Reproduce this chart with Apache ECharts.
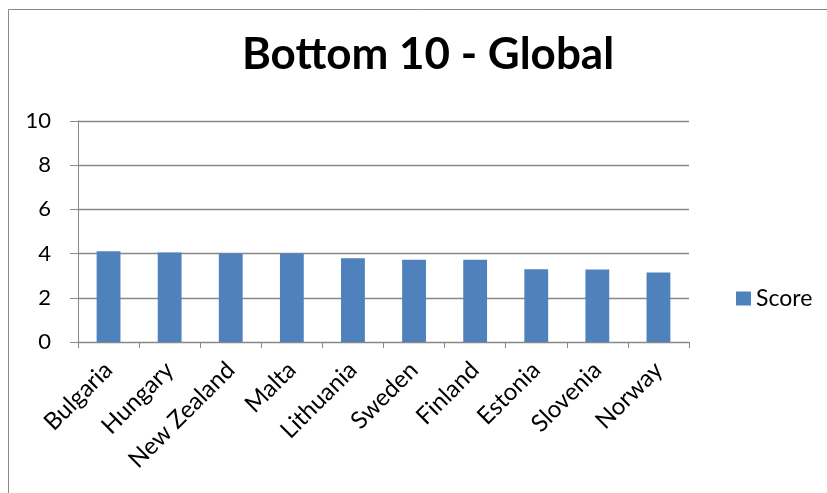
<!DOCTYPE html>
<html>
<head>
<meta charset="utf-8">
<script src="https://cdn.jsdelivr.net/npm/echarts@6/dist/echarts.min.js"></script>
<style>html,body{margin:0;padding:0;background:#fff}#c{width:827px;height:493px}</style>
</head>
<body>
<div id="c"></div>
<script>
var categories = ['Bulgaria','Hungary','New Zealand','Malta','Lithuania','Sweden','Finland','Estonia','Slovenia','Norway'];
var scores = [4.11, 4.05, 4.0, 4.0, 3.79, 3.72, 3.72, 3.29, 3.28, 3.15];
var yTicks = [0, 2, 4, 6, 8, 10];

var chart = echarts.init(document.getElementById('c'));
var font = 'Lato, "Open Sans", sans-serif';
chart.setOption({
  animation: false,
  graphic: [{
    type: 'rect', shape: {x: 8.5, y: 9.5, width: 900, height: 600},
    style: {fill: 'none', stroke: '#888', lineWidth: 1}, silent: true
  }],
  title: {
    text: 'Bottom 10 - Global', left: 423, top: 28, textAlign: 'center',
    textStyle: {fontFamily: font, fontWeight: 'bold', fontSize: 44, color: '#000'}
  },
  legend: {
    data: ['Score'], left: 731, top: 282, itemWidth: 15, itemHeight: 14, itemGap: 6,
    icon: 'rect',
    textStyle: {fontFamily: font, fontSize: 23, color: '#000'}
  },
  grid: {left: 78, right: 138, top: 121, bottom: 151},
  xAxis: {
    type: 'category', data: categories,
    axisLine: {lineStyle: {color: '#888', width: 1}},
    axisTick: {show: true, length: 6, lineStyle: {color: '#888'}},
    axisLabel: {rotate: 45, margin: 24, fontFamily: font, fontSize: 24, color: '#000', interval: 0}
  },
  yAxis: {
    type: 'value', min: yTicks[0], max: yTicks[yTicks.length - 1], interval: 2,
    axisLine: {show: true, lineStyle: {color: '#888', width: 1}},
    axisTick: {show: true, length: 8, lineStyle: {color: '#888'}},
    splitLine: {lineStyle: {color: '#888', width: 1.3}},
    axisLabel: {margin: 27, fontFamily: font, fontSize: 22, color: '#000'}
  },
  series: [{
    name: 'Score', type: 'bar', data: scores, barWidth: '39%',
    itemStyle: {color: '#4F81BD'}
  }]
});
</script>
</body>
</html>
